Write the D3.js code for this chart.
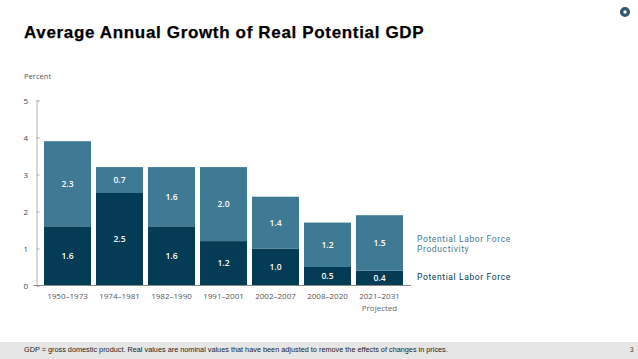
<!DOCTYPE html>
<html lang="en">
<head>
  <meta charset="UTF-8">
  <title>Average Annual Growth of Real Potential GDP</title>
  <script src="https://cdnjs.cloudflare.com/ajax/libs/d3/7.0.0/d3.min.js"></script>
  <style>
    html, body { margin: 0; padding: 0; background: #fff; }
    svg { display: block; }
    text { font-family: "Open Sans", sans-serif; }
  </style>
</head>
<body>
  <div id="chart"></div>
  <script>
    const periods = ["1950–1973", "1974–1981", "1982–1990", "1991–2001", "2002–2007", "2008–2020", "2021–2031"];
    const laborForce = [1.6, 2.5, 1.6, 1.2, 1.0, 0.5, 0.4];
    const productivity = [2.3, 0.7, 1.6, 2.0, 1.4, 1.2, 1.5];
    const yTicks = [0, 1, 2, 3, 4, 5];

    const dark = "#033c54";
    const light = "#3f7a94";

    const svg = d3.select("#chart")
      .append("svg")
      .attr("width", 638)
      .attr("height", 359);

    svg.append("text")
      .attr("x", 24)
      .attr("y", 37.5)
      .style("font-family", "'Liberation Sans', sans-serif")
      .style("font-size", "17px")
      .style("font-weight", "bold")
      .style("letter-spacing", "0.66px")
      .attr("fill", "#000")
      .attr("stroke", "#000")
      .attr("stroke-width", 0.25)
      .text("Average Annual Growth of Real Potential GDP");

    // logo in the corner
    svg.append("circle").attr("cx", 625).attr("cy", 12).attr("r", 3.4).attr("fill", "none")
      .attr("stroke", "#34596f").attr("stroke-width", 3.4);

    svg.append("text")
      .attr("x", 24)
      .attr("y", 79)
      .style("font-size", "7.6px")
      .attr("fill", "#555")
      .text("Percent");

    const x = d3.scaleBand()
      .domain(periods)
      .range([41.5, 405.5])
      .paddingInner(5 / 52)
      .paddingOuter(2.5 / 52);

    const y = d3.scaleLinear()
      .domain([0, 5])
      .range([285.5, 100.5]);

    // y axis, ticks point into the plot
    const yAxis = svg.append("g")
      .attr("transform", "translate(36.5,0)")
      .call(d3.axisLeft(y).tickValues(yTicks).tickSize(-3).tickPadding(8.5).tickFormat(d3.format("d")));
    yAxis.select(".domain").attr("stroke", "#b5b5b5").attr("stroke-width", 1);
    yAxis.selectAll(".tick line").attr("stroke", "#aaa");
    yAxis.selectAll("text")
      .style("font-size", "8px")
      .style("font-family", "'Open Sans', sans-serif")
      .attr("fill", "#444");

    // bars
    svg.selectAll(".labor")
      .data(periods)
      .enter()
      .append("rect")
      .attr("class", "labor")
      .attr("x", d => x(d))
      .attr("y", (d, i) => y(laborForce[i]))
      .attr("width", x.bandwidth())
      .attr("height", (d, i) => y(0) - y(laborForce[i]))
      .attr("fill", dark);

    svg.selectAll(".prod")
      .data(periods)
      .enter()
      .append("rect")
      .attr("class", "prod")
      .attr("x", d => x(d))
      .attr("y", (d, i) => y(laborForce[i] + productivity[i]))
      .attr("width", x.bandwidth())
      .attr("height", (d, i) => y(laborForce[i]) - y(laborForce[i] + productivity[i]))
      .attr("fill", light);

    // value labels
    const valueLabel = (sel, cy, vals) => sel
      .attr("x", d => x(d) + x.bandwidth() / 2)
      .attr("y", cy)
      .attr("dy", "0.35em")
      .attr("text-anchor", "middle")
      .attr("fill", "#fff")
      .style("font-size", "8.5px")
      .style("font-weight", "600")
      .text((d, i) => vals[i].toFixed(1));

    svg.selectAll(".labor-value")
      .data(periods)
      .enter()
      .append("text")
      .attr("class", "labor-value")
      .call(valueLabel, (d, i) => y(laborForce[i] / 2), laborForce);

    svg.selectAll(".prod-value")
      .data(periods)
      .enter()
      .append("text")
      .attr("class", "prod-value")
      .call(valueLabel, (d, i) => y(laborForce[i] + productivity[i] / 2), productivity);

    // x axis
    const xAxis = svg.append("g")
      .attr("transform", "translate(0,285.5)")
      .call(d3.axisBottom(x).tickSize(0).tickPadding(7.5));
    xAxis.select(".domain").remove();
    xAxis.selectAll("text")
      .style("font-size", "8px")
      .style("font-family", "'Open Sans', sans-serif")
      .attr("fill", "#555");

    svg.append("line")
      .attr("x1", 33.5)
      .attr("x2", 411)
      .attr("y1", 285.5)
      .attr("y2", 285.5)
      .attr("stroke", "#888");

    svg.append("text")
      .attr("x", x(periods[6]) + x.bandwidth() / 2)
      .attr("y", 311)
      .attr("text-anchor", "middle")
      .style("font-size", "8px")
      .attr("fill", "#666")
      .text("Projected");

    // series names
    const legendText = (ty, color, label) => svg.append("text")
      .attr("x", 417)
      .attr("y", ty)
      .style("font-family", "Roboto, sans-serif")
      .style("font-size", "8.5px")
      .style("letter-spacing", "0.62px")
      .attr("fill", color)
      .text(label);
    legendText(242, light, "Potential Labor Force");
    legendText(252, light, "Productivity");
    legendText(280, dark, "Potential Labor Force");

    // footer band
    svg.append("rect").attr("x", 0).attr("y", 342).attr("width", 638).attr("height", 17).attr("fill", "#e6e6e6");
    svg.append("text")
      .attr("x", 24)
      .attr("y", 351.5)
      .style("font-family", "'Liberation Sans', sans-serif")
      .style("font-size", "7.3px")
      .attr("fill", "#222")
      .text("GDP = gross domestic product. Real values are nominal values that have been adjusted to remove the effects of changes in prices.");
    svg.append("text")
      .attr("x", 630)
      .attr("y", 352)
      .style("font-family", "'Liberation Sans', sans-serif")
      .style("font-size", "6.5px")
      .attr("fill", "#444")
      .text("3");
  </script>
</body>
</html>
